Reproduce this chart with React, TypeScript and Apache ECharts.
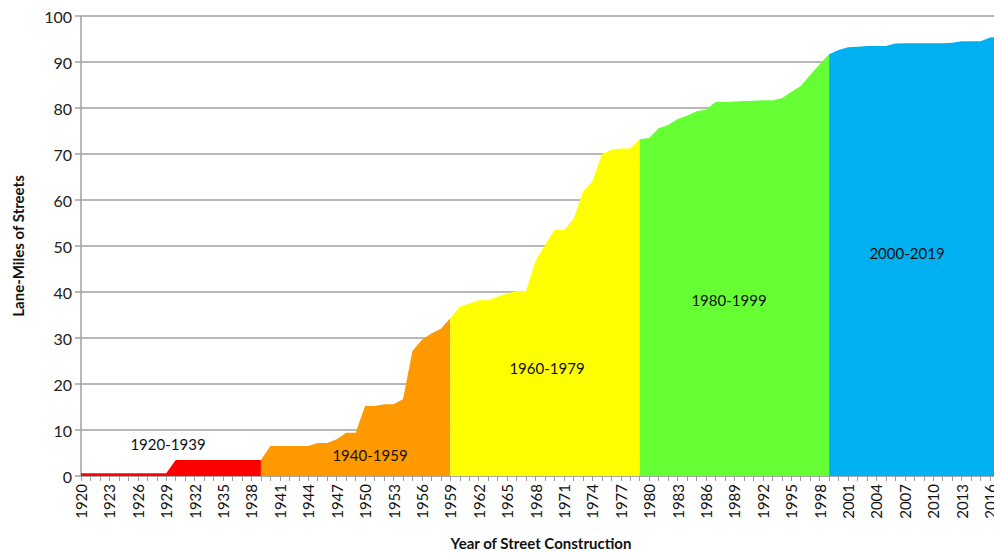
import React, { useEffect, useRef } from "react";
import * as echarts from "echarts";

const firstYear = 1920;
const lastYear = 2019;
const years: string[] = [];
for (let y = firstYear; y <= lastYear; y++) years.push(String(y));

// Cumulative lane-miles, one array per 20-year period (each starts at the previous period's last year)
const period1920_1939 = [0.6, 0.6, 0.6, 0.6, 0.6, 0.6, 0.6, 0.6, 0.6, 0.6, 3.5, 3.5, 3.5, 3.5, 3.5, 3.5, 3.5, 3.5, 3.5, 3.5];
const period1940_1959 = [3.5, 6.5, 6.5, 6.5, 6.5, 6.5, 7.2, 7.2, 8.0, 9.4, 9.4, 15.2, 15.2, 15.6, 15.6, 16.7, 27.2, 29.6, 31.0, 32.0, 34.3];
const period1960_1979 = [34.3, 36.8, 37.5, 38.2, 38.2, 39.0, 39.7, 40.2, 40.2, 46.8, 50.2, 53.5, 53.5, 55.8, 61.8, 64.0, 70.0, 70.9, 71.2, 71.2, 73.2];
const period1980_1999 = [73.2, 73.5, 75.6, 76.3, 77.6, 78.3, 79.3, 79.7, 81.3, 81.3, 81.4, 81.5, 81.6, 81.7, 81.7, 82.1, 83.5, 84.8, 87.2, 89.5, 91.7];
const period2000_2019 = [91.7, 92.6, 93.2, 93.3, 93.5, 93.5, 93.5, 94.0, 94.1, 94.1, 94.1, 94.1, 94.1, 94.2, 94.5, 94.5, 94.5, 95.3, 95.5, 95.6, 95.7];

const periods = [
  { name: "1920-1939", start: 1920, values: period1920_1939, color: "#ff0000" },
  { name: "1940-1959", start: 1939, values: period1940_1959, color: "#ff9900" },
  { name: "1960-1979", start: 1959, values: period1960_1979, color: "#ffff00" },
  { name: "1980-1999", start: 1979, values: period1980_1999, color: "#66ff33" },
  { name: "2000-2019", start: 1999, values: period2000_2019, color: "#00b0f0" },
];

const yTicks = { min: 0, max: 100, interval: 10 };

const FONT = "Lato, 'Open Sans', sans-serif";

function place(start: number, values: number[]): (number | null)[] {
  const out: (number | null)[] = years.map(() => null);
  values.forEach((v, i) => {
    out[start - firstYear + i] = v;
  });
  return out;
}

export default function App() {
  const ref = useRef<HTMLDivElement>(null);
  useEffect(() => {
    document.body.style.margin = "0";
    document.body.style.overflow = "hidden";
    const chart = echarts.init(ref.current!, undefined, { renderer: "svg", width: 1020, height: 553 });
    chart.setOption({
      animation: false,
      grid: { left: 81, right: 1.5, top: 16, bottom: 77, containLabel: false, outerBoundsMode: "none" },
      xAxis: {
        type: "category",
        data: years,
        boundaryGap: false,
        axisLine: { lineStyle: { color: "#a0a0a0", width: 1.5 } },
        axisTick: { interval: 0, length: 5, lineStyle: { color: "#a0a0a0" } },
        axisLabel: {
          interval: 2,
          rotate: 90,
          margin: 8,
          fontSize: 15,
          color: "#111",
          fontFamily: FONT,
        },
        splitLine: { show: false },
      },
      yAxis: {
        type: "value",
        min: yTicks.min,
        max: yTicks.max,
        interval: yTicks.interval,
        axisLine: { show: true, lineStyle: { color: "#a0a0a0", width: 1.5 } },
        axisTick: { show: true, length: 6, lineStyle: { color: "#a0a0a0", width: 1.5 } },
        axisLabel: { fontSize: 16, color: "#222", fontFamily: FONT, margin: 9 },
        splitLine: { lineStyle: { color: "#a0a0a0", width: 1.5 } },
      },
      series: periods.map((p) => ({
        name: p.name,
        type: "line",
        data: place(p.start, p.values),
        showSymbol: false,
        symbol: "none",
        connectNulls: false,
        lineStyle: { width: 0, color: p.color },
        itemStyle: { color: p.color },
        areaStyle: { color: p.color, opacity: 1 },
        z: 3,
      })),
      graphic: [
        { type: "text", x: 168, y: 444, style: { text: "1920-1939", font: `15px ${FONT}`, fill: "#111", align: "center", verticalAlign: "middle" }, z: 10 },
        { type: "text", x: 370, y: 455, style: { text: "1940-1959", font: `15px ${FONT}`, fill: "#111", align: "center", verticalAlign: "middle" }, z: 10 },
        { type: "text", x: 547, y: 368, style: { text: "1960-1979", font: `15px ${FONT}`, fill: "#111", align: "center", verticalAlign: "middle" }, z: 10 },
        { type: "text", x: 729, y: 300, style: { text: "1980-1999", font: `15px ${FONT}`, fill: "#111", align: "center", verticalAlign: "middle" }, z: 10 },
        { type: "text", x: 907, y: 253, style: { text: "2000-2019", font: `15px ${FONT}`, fill: "#111", align: "center", verticalAlign: "middle" }, z: 10 },
        { type: "text", x: 541, y: 543, style: { text: "Year of Street Construction", font: `bold 15px ${FONT}`, fill: "#111", align: "center", verticalAlign: "middle" } },
        { type: "text", x: 18, y: 246, rotation: Math.PI / 2, style: { text: "Lane-Miles of Streets", font: `bold 15px ${FONT}`, fill: "#111", align: "center", verticalAlign: "middle" } },
      ],
    });
    return () => chart.dispose();
  }, []);
  return (
    <div style={{ width: 994, height: 553, overflow: "hidden", position: "relative" }}>
      <div ref={ref} style={{ width: 1020, height: 553, position: "absolute", left: 0, top: 0 }} />
    </div>
  );
}
